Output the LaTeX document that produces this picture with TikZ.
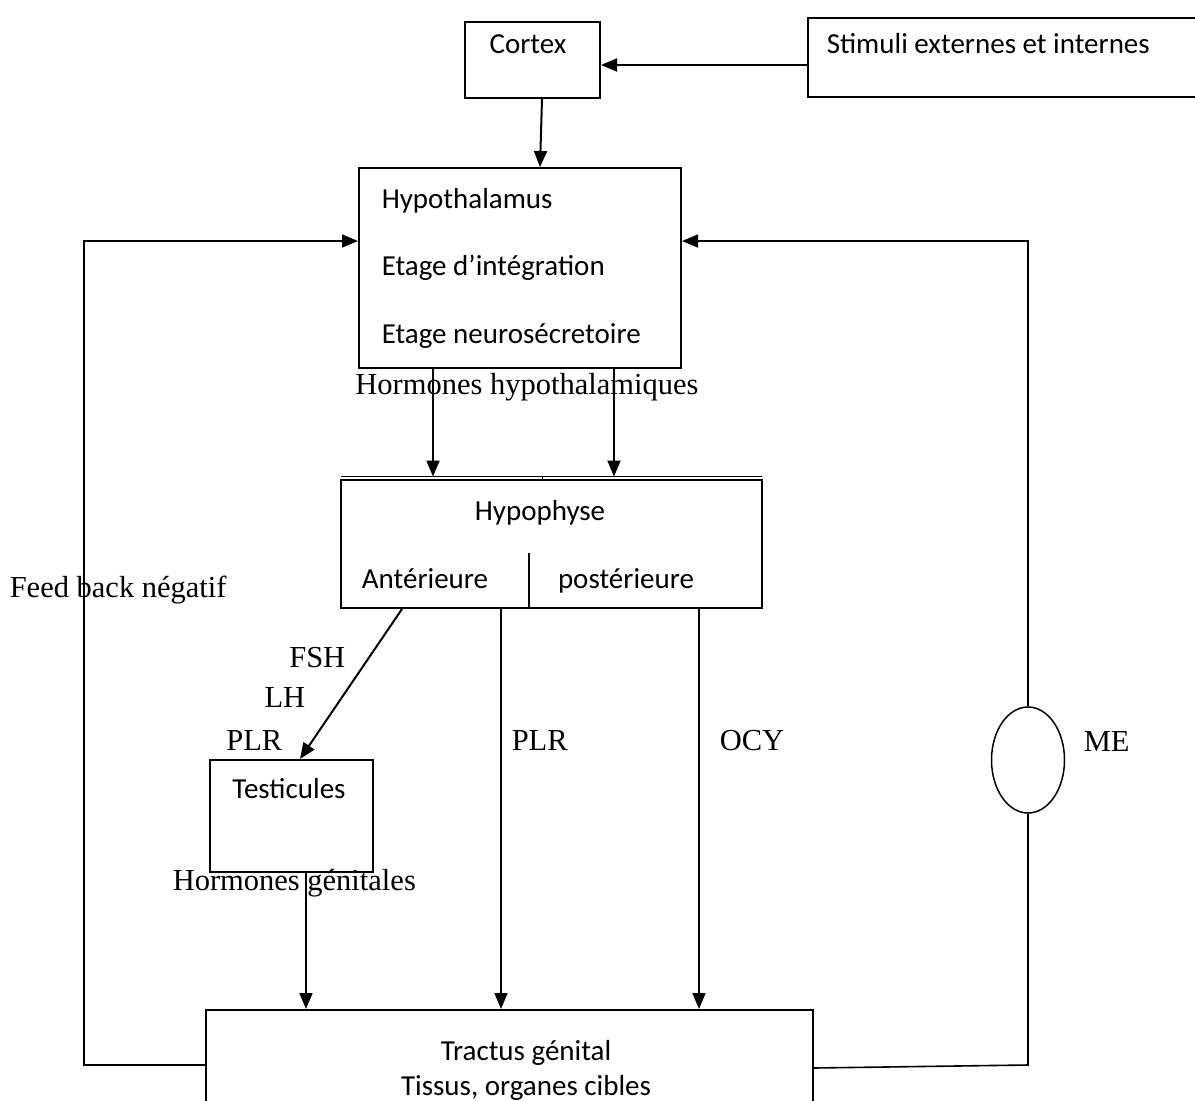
\documentclass[tikz,border=0pt]{standalone}
\usepackage{fontspec}
\setmainfont{Carlito}
\newfontfamily\labelfont{Liberation Serif}
\usetikzlibrary{arrows.meta,shapes.geometric}

\tikzset{every picture/.style={line width=2pt}}
\tikzset{
  boxnode/.style={draw,rectangle,inner sep=0pt},
  txtnode/.style={inner sep=0.75pt,anchor=base,font=\fontsize{29}{35}\selectfont},
  lblnode/.style={inner sep=0.75pt,anchor=base,font=\labelfont\fontsize{30.5}{36}\selectfont},
  arr/.style={-{Triangle[length=16pt,width=13pt]}},
}

\begin{document}
\begin{tikzpicture}[x=1pt,y=1pt,yscale=-1,xscale=1]
\useasboundingbox (0,0) rectangle (1195,1101);

%Shape: Rectangle [id:cortex]
\node (cortex) [boxnode,minimum width=135,minimum height=76] at (532.5,60) {};
\node (cortxt) [txtnode] at (528,53) {Cortex};
%Shape: Rectangle [id:stim]
\node (stim) [boxnode,anchor=west,minimum width=396,minimum height=79] at (807,57.5) {};
\node (stimtxt) [txtnode,anchor=base west] at (825,53) {Stimuli externes et internes};
%Shape: Rectangle [id:hypothal]
\node (hypothal) [boxnode,minimum width=322,minimum height=200] at (520,268) {};
\node (hypoa) [txtnode,anchor=base west] at (380,208) {Hypothalamus};
\node (hypob) [txtnode,anchor=base west] at (380,275.5) {Etage d’intégration};
\node (hypoc) [txtnode,anchor=base west] at (380,343) {Etage neurosécretoire};
%Shape: Rectangle [id:hypophyse]
\node (hypophyse) [boxnode,minimum width=421,minimum height=128] at (551.5,544) {};
\node (hyptxt) [txtnode] at (540,520) {Hypophyse};
\node (ant) [txtnode] at (425,588) {Antérieure};
\node (post) [txtnode] at (626,588) {postérieure};
\coordinate (divtop) at (529,553);
\coordinate (hyplineW) at (341,476.5);
\coordinate (hyplineE) at (762,476.5);
\coordinate (hyptick) at (542,476.5);
\draw [line width=1.6pt] (divtop) -- (divtop |- hypophyse.south);
\draw [line width=1.6pt] (hyplineW) -- (hyplineE);
\draw [line width=0.8pt] (hyptick) -- ++(0,4);
%Shape: Rectangle [id:testicules]
\node (testicules) [boxnode,minimum width=163,minimum height=112] at (291.5,816) {};
\node (testtxt) [txtnode] at (289,798) {Testicules};
%Shape: Rectangle [id:tractus]
\node (tractus) [boxnode,minimum width=607,minimum height=110] at (509.5,1065) {};
\node (tracta) [txtnode] at (526,1060) {Tractus génital};
\node (tractb) [txtnode] at (526,1095) {Tissus, organes cibles};
%Shape: Ellipse [id:me]
\node (me) [draw,ellipse,line width=1.5pt,minimum width=73,minimum height=106,inner sep=0pt] at (1028,760) {};

% Text Node
\node (hormhyp) [lblnode] at (527,394) {Hormones hypothalamiques};
\node (feedback) [lblnode,anchor=base west] at (8,597) {Feed back négatif};
\node (fsh) [lblnode,anchor=base east] at (347,667) {FSH};
\node (lh) [lblnode,anchor=base east] at (307,707) {LH};
\node (plra) [lblnode,anchor=base east] at (284,750) {PLR};
\node (plrb) [lblnode,anchor=base west] at (510,750) {PLR};
\node (ocy) [lblnode,anchor=base west] at (718,750) {OCY};
\node (metxt) [lblnode,anchor=base west] at (1082,751) {ME};
\node (hormgen) [lblnode,anchor=base west] at (171,890) {Hormones génitales};

%Straight Lines
\draw [arr] ([yshift=7.5pt]stim.west) -- ([yshift=5pt]cortex.east);
\draw [arr] ([xshift=9.5pt]cortex.south) -- ([xshift=20pt]hypothal.north);
\draw [arr] ([xshift=-87pt]hypothal.south) -- ([xshift=-87pt]hypothal.south |- hyplineW);
\draw [arr] ([xshift=94pt]hypothal.south) -- ([xshift=94pt]hypothal.south |- hyplineW);
\draw [arr] ([xshift=-149.5pt]hypophyse.south) -- ([xshift=8.5pt]testicules.north);
\draw [arr,line width=1.6pt] ([xshift=-50.5pt]hypophyse.south) -- ([xshift=-50.5pt]hypophyse.south |- tractus.north);
\draw [arr,line width=1.6pt] ([xshift=147.5pt]hypophyse.south) -- ([xshift=147.5pt]hypophyse.south |- tractus.north);
\draw [arr,line width=1.6pt] ([xshift=14.5pt]testicules.south) -- ([xshift=14.5pt]testicules.south |- tractus.north);
%Feedback loops
\draw [arr,line width=1.6pt] (tractus.west) -- ++(-121,0) |- ([yshift=-27pt]hypothal.west);
\draw [line width=1.6pt] ([yshift=3pt]tractus.east) -- ++(214,-3) |- (me.south);
\draw [arr,line width=1.6pt] (me.north) |- ([yshift=-27pt]hypothal.east);

\end{tikzpicture}
\end{document}
